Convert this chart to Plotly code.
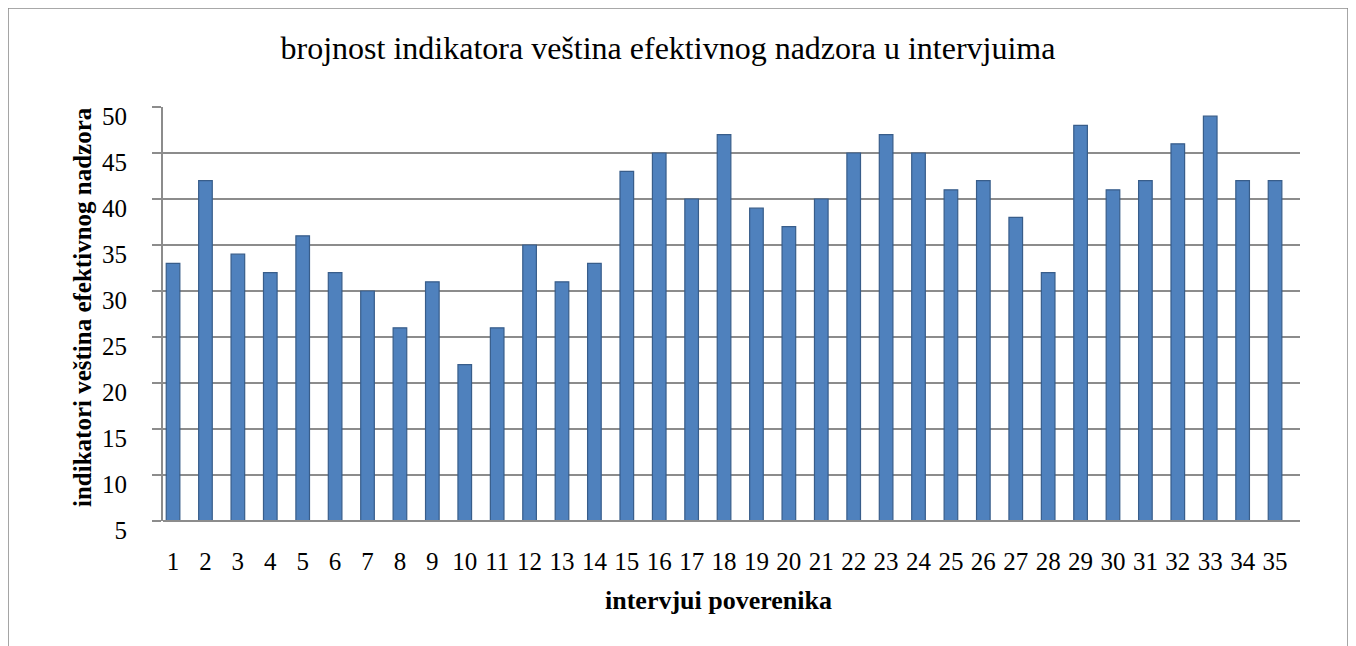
import plotly.graph_objects as go

categories = list(range(1, 36))
values = [33, 42, 34, 32, 36, 32, 30, 26, 31, 22, 26, 35, 31, 33, 43, 45, 40, 47,
          39, 37, 40, 45, 47, 45, 41, 42, 38, 32, 48, 41, 42, 46, 49, 42, 42]
y_ticks = [5, 10, 15, 20, 25, 30, 35, 40, 45, 50]

title_text = "brojnost indikatora veština efektivnog nadzora u intervjuima"
y_title = "indikatori veština efektivnog nadzora"
x_title = "intervjui poverenika"

FONT = "Liberation Serif"

fig = go.Figure(go.Bar(
    x=categories, y=values, width=0.42,
    marker=dict(color="#4F81BD", line=dict(color="#385D8A", width=1.2)),
))

fig.update_layout(
    width=1356, height=646,
    margin=dict(l=155, r=64, t=99, b=133),
    paper_bgcolor="white", plot_bgcolor="white",
    showlegend=False,
    font=dict(family=FONT, color="black", size=25),
    title=dict(text=title_text, x=0.4867, xanchor="center", y=0.938, yanchor="middle",
               font=dict(family=FONT, size=32, color="black")),
    xaxis=dict(
        range=[0.69, 35.77], tickmode="array", tickvals=categories,
        ticktext=[str(c) for c in categories], showgrid=False, zeroline=False,
        showline=False, ticks="", ticklabelstandoff=23,
        tickfont=dict(family=FONT, size=25, color="black"),
    ),
    yaxis=dict(
        range=[5, 50], tickmode="array", tickvals=y_ticks,
        showgrid=True, gridcolor="#8c8c8c", gridwidth=2,
        showline=True, linecolor="#8c8c8c", linewidth=2,
        ticks="outside", ticklen=9, tickcolor="#8c8c8c", tickwidth=2,
        ticklabelstandoff=20, ticklabelshift=9, zeroline=False,
        tickfont=dict(family=FONT, size=25, color="black"),
    ),
    annotations=[
        dict(text="<b>" + y_title + "</b>", xref="paper", yref="paper",
             x=-0.0703, y=0.517, xanchor="center", yanchor="middle",
             textangle=-90, showarrow=False, font=dict(family=FONT, size=25)),
        dict(text="<b>" + x_title + "</b>", xref="paper", yref="paper",
             x=0.4890, y=-0.191, xanchor="center", yanchor="middle",
             showarrow=False, font=dict(family=FONT, size=26)),
    ],
    shapes=[
        dict(type="rect", xref="paper", yref="paper", x0=-0.1363, x1=1.0422,
             y0=-0.4, y1=1.239, line=dict(color="#8c8c8c", width=1.5), layer="below"),
        dict(type="line", xref="paper", yref="paper", x0=0, x1=1, y0=0, y1=0,
             line=dict(color="#8c8c8c", width=2)),
    ],
)

fig.write_html("out.html")
